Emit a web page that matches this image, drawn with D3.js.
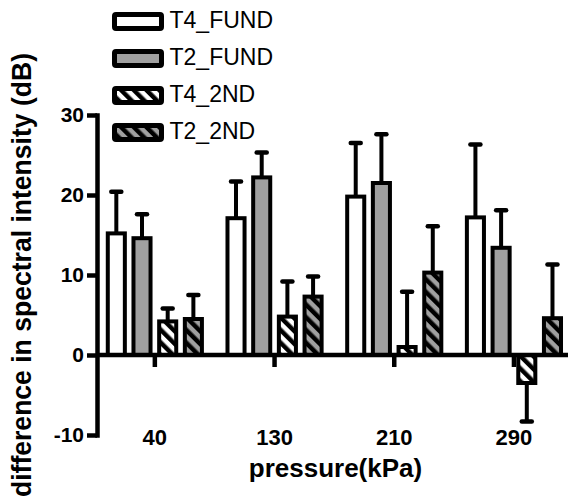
<!DOCTYPE html>
<html>
<head>
<meta charset="utf-8">
<script src="https://cdn.jsdelivr.net/npm/d3@7"></script>
<style>
  html, body { margin: 0; padding: 0; background: #fff; }
  svg { display: block; font-family: "Liberation Sans", Arial, sans-serif; }
</style>
</head>
<body>
<svg id="chart" width="568" height="504"></svg>
<script>
const categories = ["40", "130", "210", "290"];
const series = ["T4_FUND", "T2_FUND", "T4_2ND", "T2_2ND"];
const T4_FUND = [15.2, 17.1, 19.8, 17.2];
const T4_FUND_err = [5.2, 4.6, 6.7, 9.1];
const T2_FUND = [14.6, 22.2, 21.5, 13.4];
const T2_FUND_err = [3.0, 3.1, 6.1, 4.7];
const T4_2ND = [4.2, 4.8, 1.0, -3.5];
const T4_2ND_err = [1.6, 4.4, 6.9, 4.8];
const T2_2ND = [4.5, 7.3, 10.3, 4.6];
const T2_2ND_err = [3.0, 2.5, 5.8, 6.7];
const yTicks = [-10, 0, 10, 20, 30];

const values = { T4_FUND, T2_FUND, T4_2ND, T2_2ND };
const errors = { T4_FUND: T4_FUND_err, T2_FUND: T2_FUND_err, T4_2ND: T4_2ND_err, T2_2ND: T2_2ND_err };
const fills = { T4_FUND: "#ffffff", T2_FUND: "#a0a0a0", T4_2ND: "url(#hatchW)", T2_2ND: "url(#hatchG)" };

const svg = d3.select("#chart");

// patterns
const defs = svg.append("defs");
function hatch(id, bg) {
  const p = defs.append("pattern").attr("id", id)
    .attr("patternUnits", "userSpaceOnUse")
    .attr("width", 9).attr("height", 9)
    .attr("patternTransform", "rotate(-45)");
  p.append("rect").attr("width", 9).attr("height", 9).attr("fill", bg);
  p.append("rect").attr("width", 4.5).attr("height", 9).attr("fill", "#000");
}
hatch("hatchW", "#ffffff");
hatch("hatchG", "#a0a0a0");

const y = d3.scaleLinear().domain([-10, 30]).range([435, 115]);
const x0 = d3.scaleBand().domain(categories).range([95, 95 + 4 * 119.7]).padding(0);
const x1 = d3.scaleBand().domain(series).range([0, x0.bandwidth()]).paddingInner(0.18).paddingOuter(0.42);

const axisX = 97;

// y axis
const yAxis = svg.append("g").attr("transform", `translate(${axisX},0)`)
  .call(d3.axisLeft(y).tickValues(yTicks).tickSize(10).tickSizeOuter(0).tickPadding(3).tickFormat(d => String(d)));
yAxis.select(".domain").attr("stroke", "#000").attr("stroke-width", 4.5).attr("stroke-linecap", "square");
yAxis.selectAll(".tick line").attr("stroke", "#000").attr("stroke-width", 4.5);
yAxis.selectAll(".tick text").attr("fill", "#000").attr("font-size", 21).attr("font-weight", "bold")
  .attr("font-family", "'Liberation Sans', Arial, sans-serif");

// category ticks
svg.append("g").selectAll("line").data(categories).join("line")
  .attr("x1", d => x0(d) + x0.bandwidth() / 2).attr("x2", d => x0(d) + x0.bandwidth() / 2)
  .attr("y1", y(0)).attr("y2", y(0) + 12)
  .attr("stroke", "#000").attr("stroke-width", 4.5);

// category labels
svg.append("g").selectAll("text").data(categories).join("text")
  .attr("x", d => x0(d) + x0.bandwidth() / 2).attr("y", 445)
  .attr("text-anchor", "middle").attr("font-size", 22).attr("font-weight", "bold")
  .text(d => d);

// bars
const groups = svg.append("g").selectAll("g").data(categories).join("g")
  .attr("transform", d => `translate(${x0(d)},0)`);

const barData = (c, i) => series.map(s => ({ s, v: values[s][i], e: errors[s][i] }));

groups.selectAll("rect").data(barData).join("rect")
  .attr("x", d => x1(d.s) + 2)
  .attr("width", x1.bandwidth() - 4)
  .attr("y", d => Math.min(y(d.v), y(0)))
  .attr("height", d => Math.abs(y(d.v) - y(0)))
  .attr("fill", d => fills[d.s])
  .attr("stroke", "#000").attr("stroke-width", 4);

// error bars
groups.selectAll("line.err").data(barData).join("line").attr("class", "err")
  .attr("x1", d => x1(d.s) + x1.bandwidth() / 2).attr("x2", d => x1(d.s) + x1.bandwidth() / 2)
  .attr("y1", d => y(d.v))
  .attr("y2", d => y(d.v >= 0 ? d.v + d.e : d.v - d.e))
  .attr("stroke", "#000").attr("stroke-width", 4);
groups.selectAll("line.cap").data(barData).join("line").attr("class", "cap")
  .attr("x1", d => x1(d.s) + x1.bandwidth() / 2 - 5).attr("x2", d => x1(d.s) + x1.bandwidth() / 2 + 5)
  .attr("y1", d => y(d.v >= 0 ? d.v + d.e : d.v - d.e))
  .attr("y2", d => y(d.v >= 0 ? d.v + d.e : d.v - d.e))
  .attr("stroke", "#000").attr("stroke-width", 4.5).attr("stroke-linecap", "round");

// zero line
svg.append("line").attr("x1", axisX).attr("x2", 568).attr("y1", y(0)).attr("y2", y(0))
  .attr("stroke", "#000").attr("stroke-width", 4.5);

// axis titles
svg.append("text").attr("x", 335.5).attr("y", 477).attr("text-anchor", "middle")
  .attr("font-size", 26).attr("font-weight", "bold").text("pressure(kPa)");
svg.append("text").attr("transform", "translate(31,275) rotate(-90)")
  .attr("text-anchor", "middle").attr("font-size", 28).attr("font-weight", "bold")
  .attr("textLength", 444).attr("lengthAdjust", "spacingAndGlyphs")
  .text("difference in spectral intensity (dB)");

// legend
const legend = svg.append("g").selectAll("g").data(series).join("g")
  .attr("transform", (d, i) => `translate(0,${i * 37})`);
legend.append("rect").attr("x", 114.5).attr("y", 14.5).attr("width", 47).attr("height", 14)
  .attr("rx", 1.5).attr("fill", d => fills[d]).attr("stroke", "#000").attr("stroke-width", 5);
legend.append("text").attr("x", 169.5).attr("y", 28.3).attr("font-size", 23).text(d => d);
</script>
</body>
</html>
